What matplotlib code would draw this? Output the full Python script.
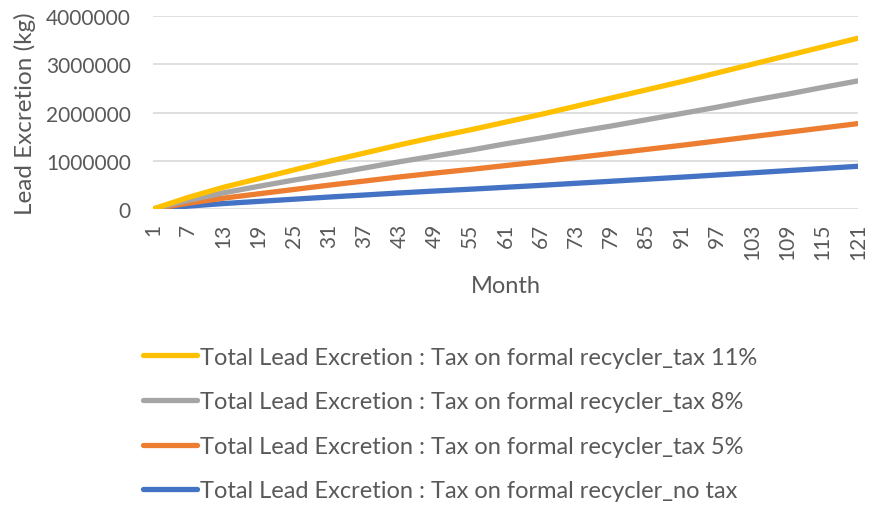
import matplotlib
matplotlib.use("Agg")
import matplotlib.pyplot as plt
from matplotlib.ticker import FuncFormatter

# months sampled every 6 months (matches the category ticks)
months = [1, 7, 13, 19, 25, 31, 37, 43, 49, 55, 61, 67, 73, 79, 85, 91, 97, 103, 109, 115, 121]

tax_11 = [0, 240000, 450000, 630000, 810000, 990000, 1160000, 1330000, 1490000, 1640000, 1800000,
          1960000, 2130000, 2300000, 2470000, 2640000, 2820000, 3000000, 3180000, 3360000, 3540000]
tax_8 = [0, 180000, 335000, 470000, 600000, 720000, 850000, 980000, 1100000, 1220000, 1350000,
         1470000, 1600000, 1720000, 1850000, 1980000, 2110000, 2250000, 2380000, 2520000, 2655000]
tax_5 = [0, 120000, 225000, 315000, 405000, 495000, 580000, 665000, 745000, 820000, 900000,
         980000, 1065000, 1150000, 1235000, 1320000, 1410000, 1500000, 1590000, 1680000, 1770000]
no_tax = [0, 60000, 113000, 158000, 203000, 248000, 290000, 333000, 373000, 410000, 450000,
          490000, 533000, 575000, 618000, 660000, 705000, 750000, 795000, 840000, 885000]

labels = ["Total Lead Excretion : Tax on formal recycler_tax 11%",
          "Total Lead Excretion : Tax on formal recycler_tax 8%",
          "Total Lead Excretion : Tax on formal recycler_tax 5%",
          "Total Lead Excretion : Tax on formal recycler_no tax"]
colors = ["#FFC000", "#A5A5A5", "#ED7D31", "#4472C4"]
series = [tax_11, tax_8, tax_5, no_tax]

plt.rcParams['font.family'] = ['Lato', 'DejaVu Sans']
text_col = "#595959"
fs = 15

fig = plt.figure(figsize=(8.7, 5.06), dpi=100)
ax = fig.add_axes([153 / 870, 1 - 210 / 506, (858 - 153) / 870, (210 - 17) / 506])

handles = []
# draw no tax first so the 11% line ends up on top
for vals, col, lab in reversed(list(zip(series, colors, labels))):
    ln, = ax.plot(months, vals, color=col, lw=3.8, solid_capstyle='round', label=lab)
    handles.append(ln)
handles = handles[::-1]

ax.set_xlim(1, 121)
ax.set_ylim(0, 4000000)
ax.set_yticks([0, 1000000, 2000000, 3000000, 4000000])
ax.yaxis.set_major_formatter(FuncFormatter(lambda v, p: f"{int(v)}"))
ax.set_xticks(months)
ax.set_xticklabels([str(m) for m in months], rotation=90)
ax.tick_params(axis='both', length=0, colors=text_col, labelsize=fs)
ax.tick_params(axis='y', pad=16)
ax.tick_params(axis='x', pad=10)
ax.grid(axis='y', color="#D9D9D9", lw=1.2)
ax.set_axisbelow(True)
for s in ax.spines.values():
    s.set_visible(False)

ax.set_xlabel("Month", fontsize=17, color=text_col, labelpad=11)
ax.set_ylabel("Lead Excretion (kg)", fontsize=17.5, color=text_col, labelpad=7)

leg = fig.legend(handles, labels, loc='center left', bbox_to_anchor=(143 / 870, 1 - 425 / 506),
                 frameon=False, fontsize=17, handlelength=2.3, handletextpad=0.1,
                 labelspacing=1.0, borderpad=0, borderaxespad=0)
for t in leg.get_texts():
    t.set_color(text_col)

fig.savefig("out.png", dpi=100)
